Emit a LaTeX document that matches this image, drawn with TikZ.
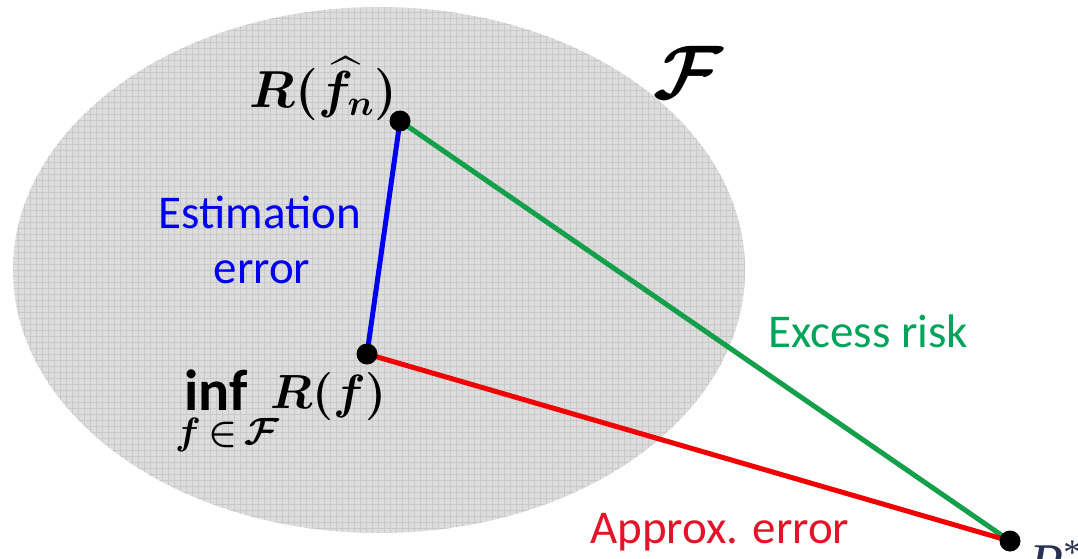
\RequirePackage{fix-cm}
\documentclass[tikz,border=0pt]{standalone}
\usepackage{amsmath,amssymb,bm}
\usepackage{fontspec}
\newfontfamily\calib{Carlito}
\newfontfamily\lserif{Liberation Serif}
\definecolor{setfill}{RGB}{221,221,221}
\definecolor{setgrid}{RGB}{201,201,201}
\definecolor{estblue}{RGB}{0,0,240}
\definecolor{exgreen}{RGB}{20,160,75}
\definecolor{exgreentext}{RGB}{0,165,90}
\definecolor{apred}{RGB}{240,0,0}
\definecolor{apredtext}{RGB}{228,20,40}
\definecolor{rstar}{RGB}{40,50,80}
\tikzset{
  dotnode/.style={circle,fill=black,inner sep=0pt,minimum size=21pt},
  conn/.style={line width=5pt},
  lbl/.style={inner sep=0pt,font=\calib\fontsize{47}{54}\selectfont},
  mth/.style={inner sep=0pt,font=\fontsize{52}{60}\selectfont\boldmath}
}
\begin{document}
\begin{tikzpicture}[x=1pt,y=-1pt]
\useasboundingbox (0,0) rectangle (1078,559);
\clip (0,0) rectangle (1078,559);
\begin{scope}
  \clip (379,270) ellipse [x radius=366, y radius=263];
  \fill[setfill] (0,0) rectangle (1078,559);
  \draw[setgrid, line width=0.8pt, step=6pt] (0,0) grid (760,540);
\end{scope}
\coordinate (pfn) at (400,121);
\coordinate (pinf) at (367,354);
\coordinate (prs) at (1010,541);
\draw[conn,estblue] (pfn) -- (pinf);
\draw[conn,exgreen] (pfn) -- (prs);
\draw[conn,apred] (pinf) -- (prs);
\node[dotnode] (dfn) at (pfn) {};
\node[dotnode] (dinf) at (pinf) {};
\node[dotnode] (drs) at (prs) {};
\node[mth, anchor=base east] (lfn) at (397,108) {$R(\widehat{f}_n)$};
\node[inner sep=0pt, font=\fontsize{76}{84}\selectfont] (lF) at (688,72) {$\bm{\mathcal{F}}$};
\node[inner sep=0pt, anchor=base west, font=\calib\bfseries\fontsize{58}{62}\selectfont] (linf) at (184,410) {inf};
\node[inner sep=0pt, anchor=base west, font=\fontsize{38}{44}\selectfont\boldmath] (lsub) at (175,444) {$f\,{\in}\,\mathcal{F}$};
\node[inner sep=0pt, anchor=base west, font=\fontsize{48}{56}\selectfont\boldmath] (lrf) at (270,408) {$R(f)$};
\node[inner sep=0pt, anchor=base west, text=rstar, font=\lserif\fontsize{56}{60}\selectfont] (lrs) at (1029,582) {\textit{R}\raisebox{18pt}{\fontsize{36}{40}\selectfont *}};
\node[lbl, anchor=base, text=estblue] (est1) at (260,228) {Estimation};
\node[lbl, anchor=base, text=estblue] (est2) at (262,283) {error};
\node[lbl, anchor=base west, text=exgreentext] (exr) at (768,347) {Excess risk};
\node[lbl, anchor=base west, text=apredtext] (apx) at (590,543) {Approx. error};
\end{tikzpicture}
\end{document}
